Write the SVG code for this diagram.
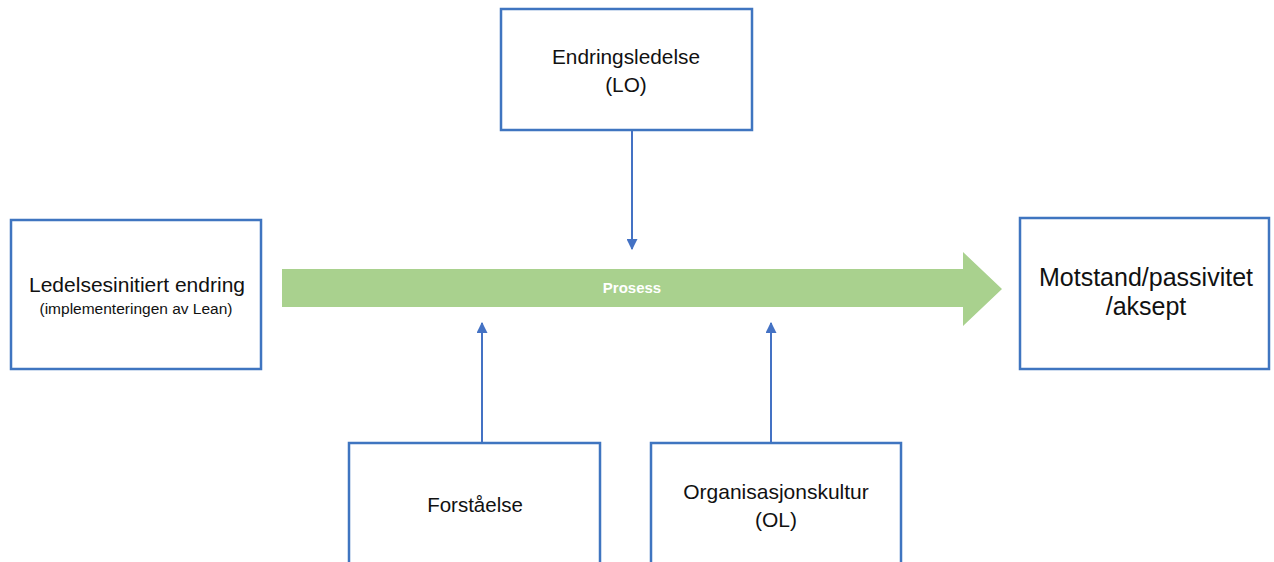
<svg xmlns="http://www.w3.org/2000/svg" width="1274" height="562" viewBox="0 0 1274 562">
  <style>
    .box { fill: #ffffff; stroke: #3f75c0; stroke-width: 2.5; }
    .lbl { font-family: "Liberation Sans", Arial, sans-serif; fill: #111111; text-anchor: middle; }
    .conn { stroke: #4472c4; stroke-width: 2; fill: none; }
  </style>
  <defs>
    <marker id="head" viewBox="0 0 10 10" refX="9" refY="5" markerWidth="5.5" markerHeight="5.5" orient="auto">
      <path d="M0,0 L10,5 L0,10 z" fill="#4472c4"/>
    </marker>
  </defs>
  <rect width="1274" height="562" fill="#ffffff"/>

  <!-- main process arrow -->
  <g id="prosess">
    <polygon points="282,269 963,269 963,252 1002,289 963,326 963,307 282,307" fill="#a9d18e"/>
    <text x="632" y="293" class="lbl" style="fill:#ffffff;font-size:15px;font-weight:bold">Prosess</text>
  </g>

  <g id="endringsledelse">
    <rect x="501" y="9" width="251" height="121" class="box"/>
    <text x="626" y="64" class="lbl" font-size="20.8">Endringsledelse</text>
    <text x="626" y="92" class="lbl" font-size="20.8">(LO)</text>
  </g>

  <g id="ledelsesinitiert">
    <rect x="11" y="220" width="250" height="149" class="box"/>
    <text x="137" y="292" class="lbl" font-size="21">Ledelsesinitiert endring</text>
    <text x="136" y="314" class="lbl" font-size="15.5">(implementeringen av Lean)</text>
  </g>

  <g id="motstand">
    <rect x="1020" y="218" width="249" height="151" class="box"/>
    <text x="1146" y="286" class="lbl" font-size="25">Motstand/passivitet</text>
    <text x="1146" y="315" class="lbl" font-size="25">/aksept</text>
  </g>

  <g id="forstaelse">
    <rect x="349" y="443" width="251" height="130" class="box"/>
    <text x="475" y="512" class="lbl" font-size="20.5">Forståelse</text>
  </g>

  <g id="organisasjonskultur">
    <rect x="651" y="443" width="250" height="130" class="box"/>
    <text x="776" y="499" class="lbl" font-size="21">Organisasjonskultur</text>
    <text x="776" y="527" class="lbl" font-size="21">(OL)</text>
  </g>

  <g id="connectors">
    <line x1="632" y1="131" x2="632" y2="249" class="conn" marker-end="url(#head)"/>
    <line x1="482" y1="442" x2="482" y2="323" class="conn" marker-end="url(#head)"/>
    <line x1="771" y1="442" x2="771" y2="323" class="conn" marker-end="url(#head)"/>
  </g>
</svg>
